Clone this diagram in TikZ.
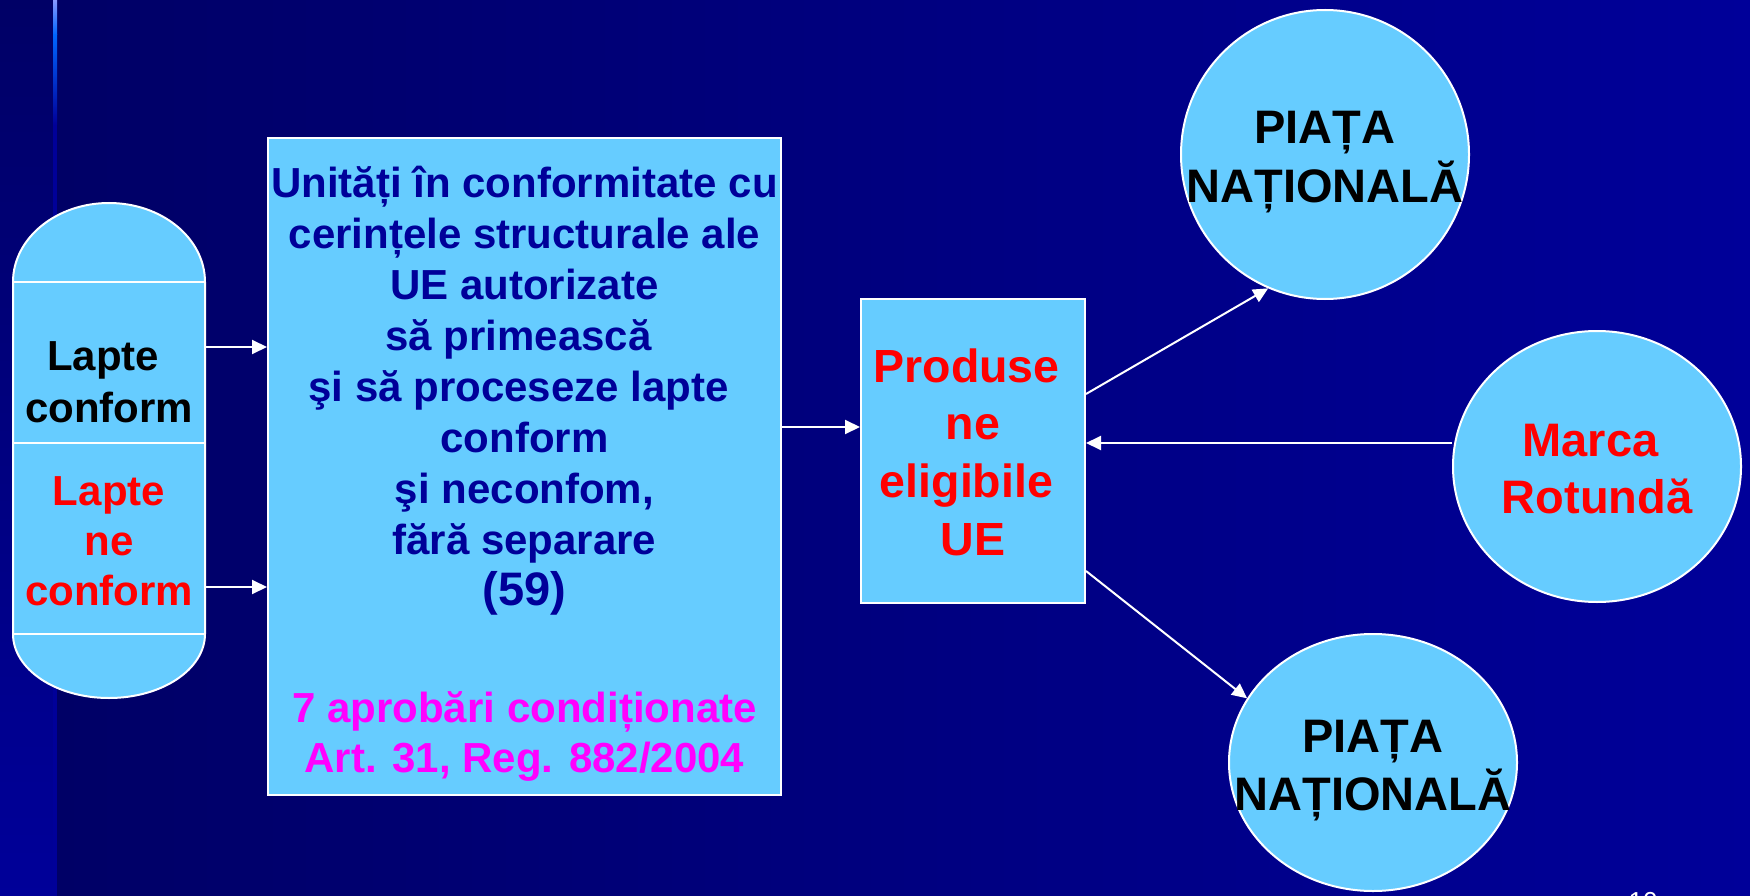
\documentclass[tikz,border=0pt]{standalone}
\usepackage{fontspec}
\setmainfont{Liberation Sans}
\usetikzlibrary{shapes.geometric,arrows.meta}
\definecolor{bgdark}{HTML}{000066}
\definecolor{bgmid}{HTML}{000099}
\definecolor{skyfill}{HTML}{66CCFF}
\definecolor{navytext}{HTML}{000099}
\definecolor{magtext}{HTML}{FF00FF}
\definecolor{redtext}{HTML}{FF0000}
\definecolor{barlight}{HTML}{8899FF}
\definecolor{barbright}{HTML}{0066FF}
\newcommand\mlines[3]{\fontsize{#1}{#2}\selectfont\begin{tabular}[t]{@{}c@{}}#3\end{tabular}}
\begin{document}
\begin{tikzpicture}[x=1pt,y=-1pt,
  skybox/.style={draw=white, line width=2pt, fill=skyfill, inner sep=0pt},
  skyellipse/.style={ellipse, skybox},
  arr/.style={draw=white, line width=2pt, -{Triangle[length=15pt,width=14pt]}},
  txt/.style={inner sep=0pt, anchor=base, font=\bfseries}]
\useasboundingbox (0,0) rectangle (1750,896);
\clip (0,0) rectangle (1750,896);
% background
\shade[left color=bgdark, right color=bgmid] (57,0) rectangle (1750,896);
\shade[top color=bgdark, bottom color=bgmid] (0,0) rectangle (53,896);
\shade[top color=barlight, bottom color=barbright] (53,0) rectangle (57,35);
\shade[top color=barbright, bottom color=bgmid] (53,35) rectangle (57,125);
\fill[bgmid] (53,125) rectangle (57,896);
% cylinder
\node[minimum width=192pt, minimum height=495pt, inner sep=0pt] (cyl) at (109,450.5) {};
\filldraw[draw=white, line width=2pt, fill=skyfill]
  (13,282) .. controls (13,238.4) and (56,203) .. (109,203)
  .. controls (162,203) and (205,238.4) .. (205,282)
  -- (205,634) .. controls (205,669.3) and (162,698) .. (109,698)
  .. controls (56,698) and (13,669.3) .. (13,634) -- cycle;
\draw[white, line width=2pt] (13,282) -- (205,282);
\draw[white, line width=2pt] (13,443) -- (205,443);
\draw[white, line width=2pt] (13,634) -- (205,634);
\node[txt, text=black] (lc) at (109,370) {\mlines{42}{52}{Lapte\hspace*{11.7pt}\\conform}};
\node[txt, text=redtext] (lnc) at (109,505) {\mlines{42}{50}{Lapte\\ne\\conform}};
% big box
\node[skybox, minimum width=513pt, minimum height=657pt] (units) at (524.5,466.5) {};
\node[txt, text=navytext] (unitsText) at (524.5,197) {\mlines{42}{51.1}{Unități în conformitate cu\\cerințele structurale ale\\UE autorizate\\să primească\hspace*{11.7pt}\\şi să proceseze lapte\hspace*{11.7pt}\\conform\\şi neconfom,\\fără separare\\{\fontsize{47}{51.1}\selectfont(59)}}};
\node[txt, text=magtext] (unitsNote) at (524.5,722) {\mlines{42}{50}{7 aprobări condiționate\\Art. 31, Reg. 882/2004}};
% small box
\node[skybox, minimum width=224pt, minimum height=304pt] (prod) at (973,451) {};
\node[txt, text=redtext] (prodText) at (973,382) {\mlines{46.5}{57.7}{Produse\hspace*{13pt}\\ne\\eligibile\hspace*{13pt}\\UE}};
% circles
\node[skyellipse, minimum width=288pt, minimum height=289pt] (pn1) at (1325,154.5) {};
\node[txt, text=black] (pn1Text) at (1325,144) {\mlines{47}{58}{PIAȚA\\NAȚIONALĂ}};
\node[skyellipse, minimum width=288pt, minimum height=271pt] (mr) at (1597,466.5) {};
\node[txt, text=redtext] (mrText) at (1597,456) {\mlines{47}{57}{Marca\hspace*{13pt}\\Rotundă}};
\node[skyellipse, minimum width=288pt, minimum height=257pt] (pn2) at (1373,762.5) {};
\node[txt, text=black] (pn2Text) at (1373,752) {\mlines{47}{58}{PIAȚA\\NAȚIONALĂ}};
% connectors
\coordinate (yA) at (0,347);
\coordinate (yB) at (0,587);
\coordinate (yC) at (0,427);
\coordinate (yD) at (0,394);
\coordinate (yE) at (0,443);
\coordinate (yF) at (0,571);
\draw[arr] (cyl.east |- yA) -- (units.west |- yA);
\draw[arr] (cyl.east |- yB) -- (units.west |- yB);
\draw[arr] (units.east |- yC) -- (prod.west |- yC);
\draw[arr] (prod.east |- yD) -- (pn1.247);
\draw[arr] (mr.west |- yE) -- (prod.east |- yE);
\draw[arr] (prod.east |- yF) -- (pn2.153);
% page number
\node[anchor=base, inner sep=0pt, text=white, font=\fontsize{26}{26}\selectfont] (pgnum) at (1643,910) {10};
\end{tikzpicture}
\end{document}
